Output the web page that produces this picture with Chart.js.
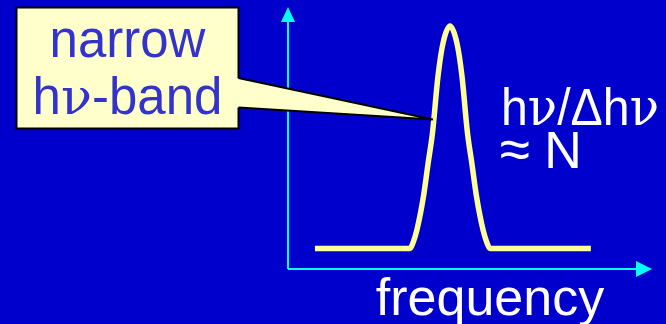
<!DOCTYPE html>
<html>
<head>
<meta charset="utf-8">
<script src="https://cdn.jsdelivr.net/npm/chart.js@4/dist/chart.umd.min.js"></script>
<style>
  html, body { margin: 0; padding: 0; background: #0000CC; overflow: hidden; }
  canvas { display: block; }
</style>
</head>
<body>
<canvas id="c" width="666" height="324"></canvas>
<script>
// ---- data (arbitrary units) ----
const frequency = [7.4, 33.5, 34.3, 35.4, 37.2, 38.5, 39.7, 41.2, 42.6, 44.5, 46.4, 47.8, 49.3, 50.5, 51.8, 53.6, 54.7, 55.5, 83.2];
const intensity = [7.5, 7.5, 9.5, 14.5, 27.3, 40.2, 51.8, 73.4, 86.2, 92.7, 86.2, 73.4, 51.8, 40.2, 27.3, 14.5, 9.5, 7.5, 7.5];
const xRange = [0, 100];
const yRange = [0, 100];
const calloutLines = [["narrow"], ["h", "ν", "-band"]];
const calloutTip = { x: 39.8, y: 56.9 };
const ratioLines = [["h", "ν", "/Δh", "ν"], ["≈", " N"]];
const xAxisTitle = "frequency";

const BG = '#0000CC';
const AXIS = '#00FFFF';
const CURVE = '#FFFF99';
const BOX_FILL = '#FFFFCC';
const BOX_TEXT = '#3333CC';
const SANS = '"Liberation Sans", Arial, sans-serif';
const SERIF = '"DejaVu Serif", "Liberation Serif", serif';

function segFont(seg, size) {
  if (seg === 'ν') return size + 'px ' + SERIF;
  if (seg === '≈') return Math.round(size * 1.06) + 'px ' + SANS;
  return size + 'px ' + SANS;
}
function drawSegs(ctx, segs, x, y, size, align, fitWidth) {
  ctx.save();
  let total = 0;
  const widths = segs.map(s => { ctx.font = segFont(s, size); const w = ctx.measureText(s).width; total += w; return w; });
  let sx = 1;
  if (fitWidth && total > fitWidth) sx = fitWidth / total;
  const startX = align === 'center' ? x - total * sx / 2 : x;
  ctx.translate(startX, y);
  ctx.scale(sx, 1);
  ctx.textAlign = 'left';
  ctx.textBaseline = 'alphabetic';
  let cx = 0;
  segs.forEach((s, i) => {
    ctx.font = segFont(s, size);
    ctx.fillText(s, cx, 0);
    cx += widths[i];
  });
  ctx.restore();
}

const decor = {
  id: 'decor',
  beforeDraw(chart) {
    const ctx = chart.ctx;
    ctx.save();
    ctx.fillStyle = BG;
    ctx.fillRect(0, 0, chart.width, chart.height);
    ctx.restore();
  },
  afterDatasetsDraw(chart) {
    const ctx = chart.ctx;
    const a = chart.chartArea;
    const xs = chart.scales.x, ys = chart.scales.y;
    ctx.save();
    // axes
    ctx.strokeStyle = AXIS;
    ctx.fillStyle = AXIS;
    ctx.lineWidth = 2;
    const ox = a.left, oy = a.bottom + 1;
    ctx.beginPath();
    ctx.moveTo(ox, oy);
    ctx.lineTo(ox, a.top + 12);
    ctx.moveTo(ox, oy);
    ctx.lineTo(a.right - 12, oy);
    ctx.stroke();
    // arrow heads
    ctx.beginPath();
    ctx.moveTo(ox, a.top);
    ctx.lineTo(ox - 7, a.top + 15);
    ctx.lineTo(ox + 7, a.top + 15);
    ctx.closePath();
    ctx.fill();
    ctx.beginPath();
    ctx.moveTo(a.right, oy);
    ctx.lineTo(a.right - 16, oy - 8);
    ctx.lineTo(a.right - 16, oy + 8);
    ctx.closePath();
    ctx.fill();

    // callout box
    const bx = 16, by = 7, bw = 222, bh = 121;
    ctx.fillStyle = BOX_FILL;
    ctx.fillRect(bx, by, bw, bh);
    ctx.strokeStyle = '#000000';
    ctx.lineWidth = 2;
    ctx.strokeRect(bx + 0.5, by + 0.5, bw, bh);
    // pointer wedge
    const tx = xs.getPixelForValue(calloutTip.x), ty = ys.getPixelForValue(calloutTip.y);
    const wx = bx + bw + 0.5;
    ctx.beginPath();
    ctx.moveTo(wx - 2, 78);
    ctx.lineTo(tx, ty);
    ctx.lineTo(wx - 2, 107.5);
    ctx.closePath();
    ctx.fillStyle = BOX_FILL;
    ctx.fill();
    ctx.beginPath();
    ctx.moveTo(wx, 78);
    ctx.lineTo(tx, ty);
    ctx.lineTo(wx, 107.5);
    ctx.stroke();

    // callout text
    ctx.fillStyle = BOX_TEXT;
    drawSegs(ctx, calloutLines[0], bx + bw / 2 + 0.5, 56.5, 51, 'center');
    drawSegs(ctx, calloutLines[1], bx + bw / 2 + 0.5, 113.5, 51, 'center');

    // ratio text
    ctx.fillStyle = '#FFFFFF';
    drawSegs(ctx, ratioLines[0], 501, 125, 52, 'left', 158);
    drawSegs(ctx, ratioLines[1], 499.5, 167.5, 52, 'left');

    // axis title
    ctx.font = '52px ' + SANS;
    ctx.textAlign = 'center';
    ctx.textBaseline = 'alphabetic';
    ctx.fillText(xAxisTitle, (a.left + a.right) / 2 + 20, 315);
    ctx.restore();
  }
};

new Chart(document.getElementById('c'), {
  type: 'line',
  data: {
    datasets: [{
      data: frequency.map((f, i) => ({ x: f, y: intensity[i] })),
      borderColor: CURVE,
      borderWidth: 5.5,
      borderCapStyle: 'butt',
      borderJoinStyle: 'round',
      cubicInterpolationMode: 'monotone',
      pointRadius: 0,
      fill: false
    }]
  },
  options: {
    responsive: false,
    devicePixelRatio: 1,
    animation: false,
    events: [],
    layout: { padding: { left: 288, right: 14, top: 7, bottom: 56 } },
    scales: {
      x: { type: 'linear', min: xRange[0], max: xRange[1], display: false },
      y: { type: 'linear', min: yRange[0], max: yRange[1], display: false }
    },
    plugins: { legend: { display: false }, tooltip: { enabled: false } }
  },
  plugins: [decor]
});
</script>
</body>
</html>
